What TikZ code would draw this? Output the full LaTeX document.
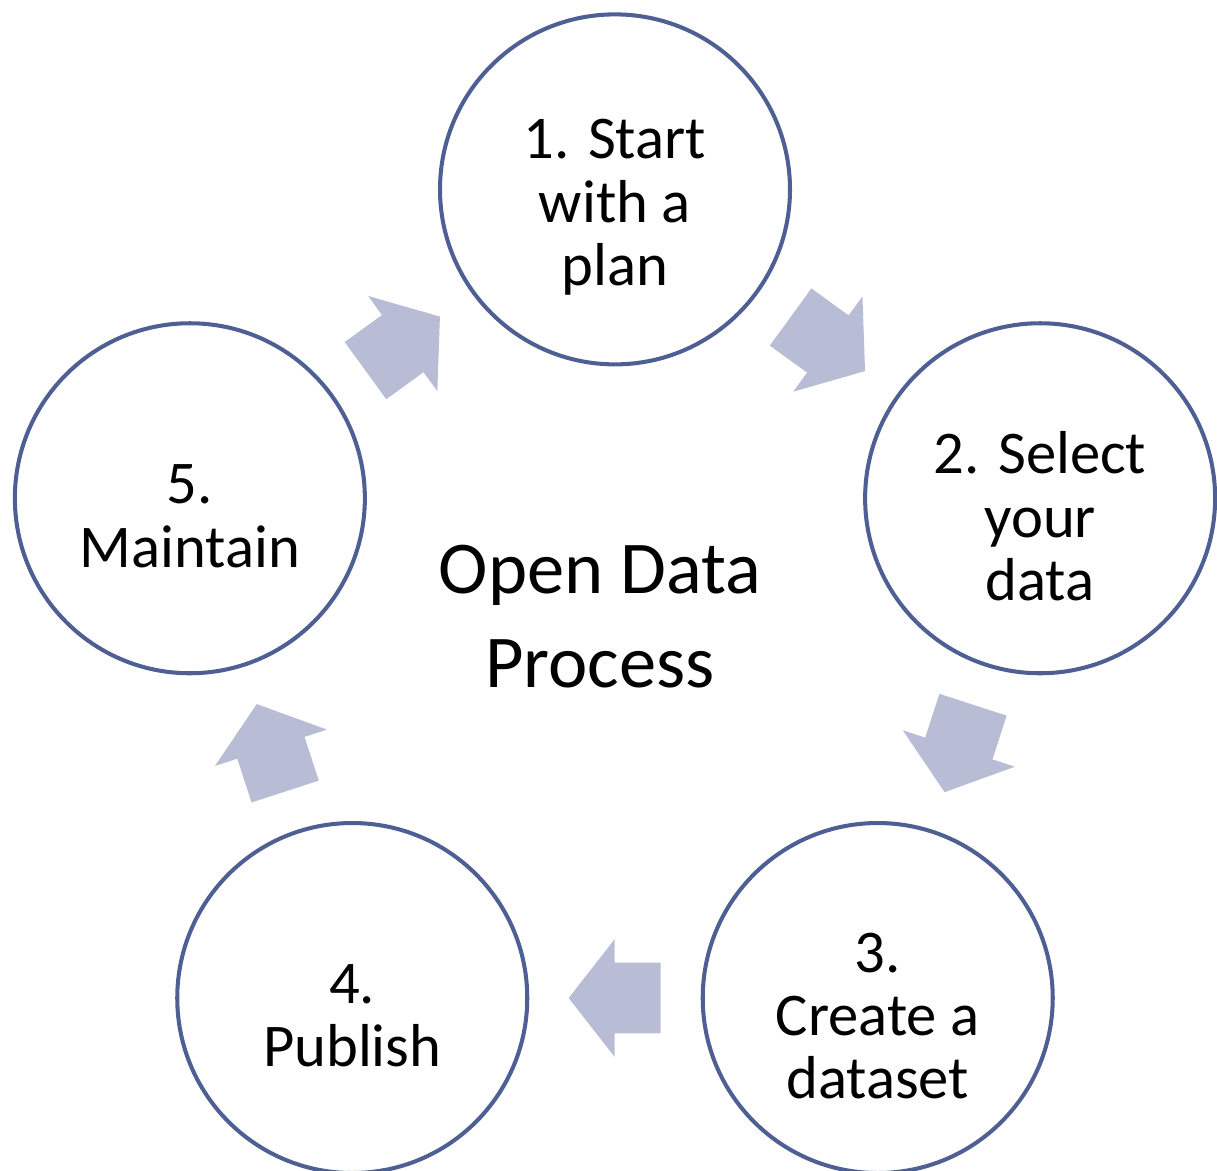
\documentclass[tikz,border=0pt]{standalone}
\usepackage{fontspec}
\setmainfont{Carlito}
\usetikzlibrary{shapes.arrows,calc}
\definecolor{ringblue}{HTML}{4E5F94}
\definecolor{arrowfill}{HTML}{B8BCD4}

\begin{document}
\begin{tikzpicture}[
    stepcircle/.style={circle, draw=ringblue, line width=2.3pt, minimum size=7cm, inner sep=0pt},
    steptext/.style={align=center, yshift=-0.36cm, font=\fontsize{34.5}{36}\selectfont},
    cyclearrow/.style={single arrow, fill=arrowfill, inner xsep=0pt, inner ysep=0.7cm, minimum height=1.84cm,
        single arrow head extend=0.47cm, single arrow tip angle=104, anchor=tail}
]
    \useasboundingbox (-12.3,-10.692) rectangle (12.04,12.728);

    % the five steps, clockwise from the top
    \node[stepcircle] (c1) at (90:8.94) {};
    \node[stepcircle] (c2) at (18:8.94) {};
    \node[stepcircle] (c3) at (-54:8.94) {};
    \node[stepcircle] (c4) at (-126:8.94) {};
    \node[stepcircle] (c5) at (162:8.94) {};

    \node[steptext] (t1) at (c1) {1. Start\\with a\\plan};
    \node[steptext] (t2) at (c2) {2. Select\\your\\data};
    \node[steptext] (t3) at (c3) {3.\\Create a\\dataset};
    \node[steptext] (t4) at (c4) {4.\\Publish};
    \node[steptext] (t5) at (c5) {5.\\Maintain};

    % block arrows between neighbours (tail half a length before the midpoint)
    \foreach \i/\j/\a in {1/2/90, 2/3/18, 3/4/-54, 4/5/-126, 5/1/162}
        \node[cyclearrow, rotate=\a-126] (a\i) at ($(c\i)!0.5!(c\j)!0.92cm!(c\i)$) {};

    \node[align=center, font=\fontsize{42.4}{53.5}\selectfont] (title) at (-0.3,0.39) {Open Data\\Process};
\end{tikzpicture}
\end{document}
